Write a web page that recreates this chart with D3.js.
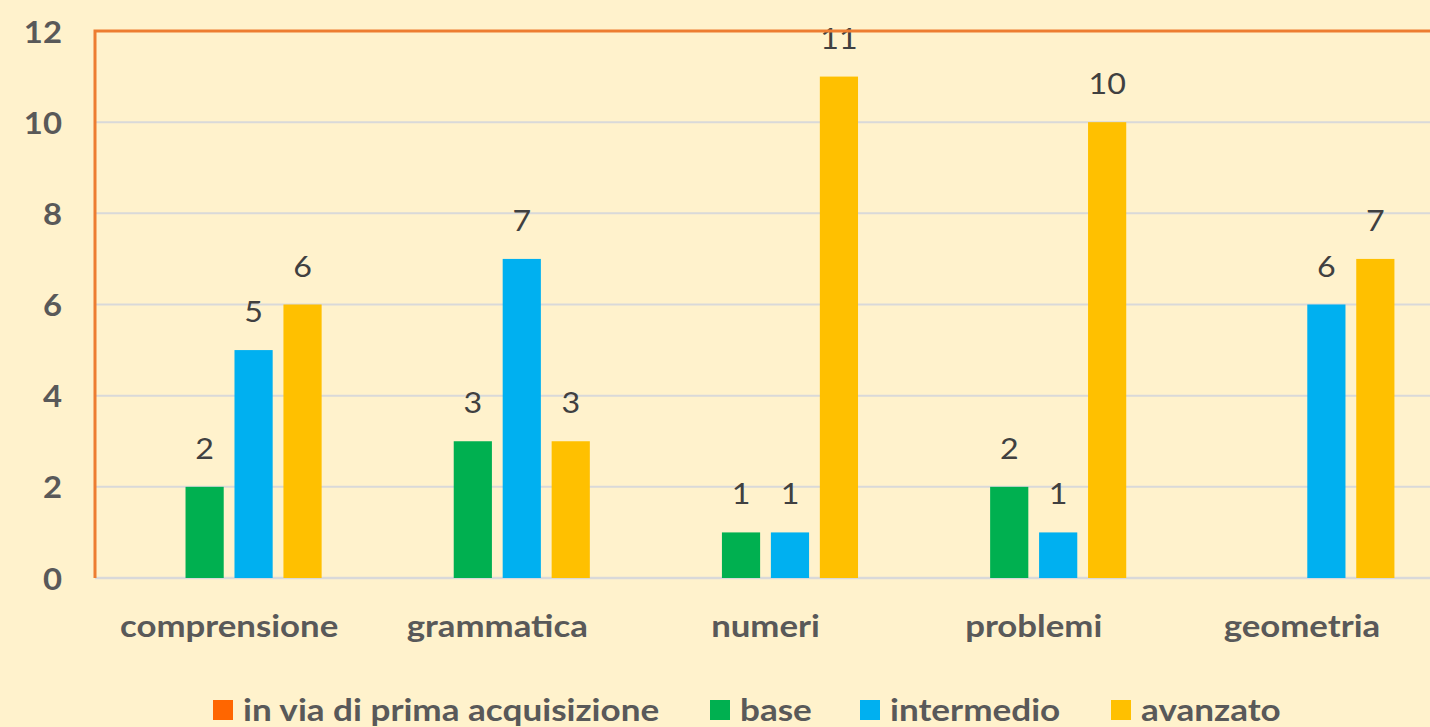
<!DOCTYPE html>
<html><head><meta charset="utf-8">
<script src="https://cdn.jsdelivr.net/npm/d3@7"></script>
<style>
html,body{margin:0;padding:0;background:#FFF2CC;}
svg{display:block;}
text{font-family:Lato,"Open Sans",sans-serif;}
</style></head>
<body>
<svg id="chart" width="1430" height="727"></svg>
<script>
const categories = ["comprensione","grammatica","numeri","problemi","geometria"];
const seriesNames = ["in via di prima acquisizione","base","intermedio","avanzato"];
const seriesColors = ["#FF6600","#00B050","#00B0F0","#FFC000"];
const inVia = [0,0,0,0,0];
const base = [2,3,1,2,0];
const intermedio = [5,7,1,1,6];
const avanzato = [6,3,11,10,7];
const yTicks = [0,2,4,6,8,10,12];

const seriesValues = [inVia, base, intermedio, avanzato];
const svg = d3.select("#chart");
const W = 1430, H = 727;
const pLeft = 95, pRight = 1436, pTop = 31, pBottom = 578;

svg.append("rect").attr("width",W).attr("height",H).attr("fill","#FFF2CC");

const x = d3.scaleBand().domain(categories).range([pLeft,pRight]).paddingInner(0).paddingOuter(0);
const xs = d3.scaleBand().domain(d3.range(seriesNames.length)).range([x.bandwidth()*0.155, x.bandwidth()*0.845]).paddingInner(0.22);
const y = d3.scaleLinear().domain([0,12]).range([pBottom,pTop]);

// gridlines
svg.append("g").selectAll("line").data(yTicks.filter(t=>t>0 && t<12)).join("line")
  .attr("x1",pLeft).attr("x2",W).attr("y1",d=>y(d)).attr("y2",d=>y(d))
  .attr("stroke","#D9D9D9").attr("stroke-width",2);
// baseline
svg.append("line").attr("x1",pLeft).attr("x2",W).attr("y1",y(0)).attr("y2",y(0))
  .attr("stroke","#D9D9D9").attr("stroke-width",2.5);

// y axis labels
const yAxis = d3.axisLeft(y).tickValues(yTicks).tickSize(0).tickPadding(0);
const ya = svg.append("g").attr("transform",`translate(62,0)`).call(yAxis);
ya.select(".domain").remove();
ya.selectAll("text").attr("font-size",31).attr("font-weight","bold").attr("fill","#595959")
  .attr("font-family","Lato,'Open Sans',sans-serif").attr("dy","0.36em").attr("x",0)
  .attr("transform","scale(1.06,1)");

// bars
const groups = svg.append("g").selectAll("g").data(categories).join("g")
  .attr("transform",d=>`translate(${x(d)},0)`);
seriesValues.forEach((vals,si)=>{
  groups.append("rect")
    .attr("x",xs(si)).attr("width",xs.bandwidth())
    .attr("y",(d,i)=>y(vals[i])).attr("height",(d,i)=>y(0)-y(vals[i]))
    .attr("fill",seriesColors[si]);
  groups.filter((d,i)=>vals[i]>0).append("text")
    .attr("transform",d=>`translate(${xs(si)+xs.bandwidth()/2},${y(vals[categories.indexOf(d)])-28}) scale(1.15,1)`)
    .attr("text-anchor","middle").attr("font-size",28).attr("fill","#404040")
    .text(d=>vals[categories.indexOf(d)]);
});

// plot border (orange, top & left)
svg.append("path").attr("d",`M${pLeft},${pBottom} L${pLeft},${pTop} L${W},${pTop}`)
  .attr("fill","none").attr("stroke","#ED7D31").attr("stroke-width",3);

// x axis labels
const xAxis = d3.axisBottom(x).tickSize(0).tickPadding(0);
const xa = svg.append("g").attr("transform",`translate(0,637)`).call(xAxis);
xa.select(".domain").remove();
xa.selectAll("text").attr("font-size",30).attr("font-weight","bold").attr("fill","#595959")
  .attr("font-family","Lato,'Open Sans',sans-serif").attr("dy",0).attr("y",0)
  .attr("transform","scale(1.16,1)");

// legend
const legendX = [213, 710, 860, 1111];
const lg = svg.append("g").selectAll("g").data(seriesNames).join("g")
  .attr("transform",(d,i)=>`translate(${legendX[i]},710)`);
lg.append("rect").attr("x",0).attr("y",-10).attr("width",20).attr("height",20)
  .attr("fill",(d,i)=>seriesColors[i]);
lg.append("text").attr("transform","translate(30,0) scale(1.17,1)").attr("dy","0.36em")
  .attr("font-size",30).attr("font-weight","bold").attr("fill","#595959").text(d=>d);
</script>
</body></html>
